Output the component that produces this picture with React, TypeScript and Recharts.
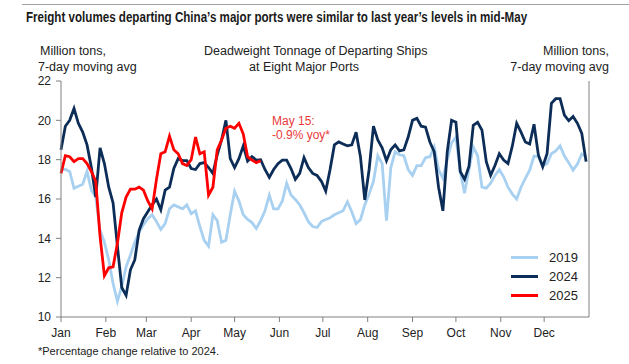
import { LineChart, Line, XAxis, YAxis } from "recharts";

const MONTHS = ["Jan", "Feb", "Mar", "Apr", "May", "Jun", "Jul", "Aug", "Sep", "Oct", "Nov", "Dec"];
const MONTH_START_DAYS = [0, 31, 59, 90, 120, 151, 181, 212, 243, 273, 304, 334];
const Y_TICKS = [10, 12, 14, 16, 18, 20, 22];

// sampled every 3 days, day 0 = Jan 1
const DAYS = Array.from({ length: 122 }, (_, i) => i * 3);

const V2019 = [
  17.5, 17.5, 17.4, 16.55, 16.65, 16.75, 17.4, 16.45, 16.1, 14.4,
  13.8, 12.9, 11.7, 10.8, 11.55, 12.55, 13.15, 13.8, 14.3, 14.7,
  15.0, 15.2, 14.85, 14.45, 14.75, 15.5, 15.7, 15.6, 15.5, 15.7,
  15.25, 15.4, 14.6, 13.9, 13.6, 15.2, 14.9, 13.8, 13.9, 15.2,
  16.4, 15.9, 15.2, 14.96, 14.8, 14.5, 14.9, 15.4, 16.2, 15.5,
  15.5, 15.9, 16.8, 16.2, 15.98, 15.7, 15.3, 14.85, 14.6, 14.55,
  14.85, 14.96, 15.05, 15.2, 15.3, 15.4, 15.86, 15.35, 14.75, 14.95,
  15.7, 16.25, 16.9, 18.2, 17.8, 14.9, 17.6, 18.4, 18.25, 18.2,
  17.5, 17.2, 17.7, 17.7, 18.1, 18.15, 18.65, 17.5, 17.05, 18.0,
  18.85, 19.15, 17.4, 16.3, 17.5, 18.65, 18.2, 16.6, 16.55, 16.8,
  17.2, 17.5, 17.13, 16.6, 16.25, 16.0, 16.6, 17.05, 17.47, 18.18,
  18.15, 17.7, 17.8, 18.3, 18.45, 18.7, 18.18, 17.85, 17.47, 17.78,
  18.29, 18.15,
];

const V2024 = [
  18.5, 19.7, 20.0, 20.6, 19.85, 19.4, 18.75, 17.6, 16.1, 18.6,
  17.8, 16.6, 15.8, 13.6, 11.5, 11.1, 12.4, 12.9, 14.4, 15.0,
  15.35, 15.7, 16.0, 15.45, 16.45, 16.6, 17.55, 18.05, 17.95, 17.95,
  17.55, 17.5, 17.8, 17.85, 17.6, 17.3, 18.25, 19.0, 20.0, 18.05,
  17.6, 18.05, 18.7, 17.93, 18.15, 17.98, 18.0, 17.5, 17.1, 17.5,
  17.8, 17.98, 17.98, 17.55, 17.0, 17.3, 18.1, 17.6, 17.3, 17.2,
  16.9, 16.4, 17.5, 18.75, 18.9, 18.8, 18.7, 18.75, 19.4, 18.15,
  15.95, 17.5, 19.7, 19.0, 18.6, 17.95, 18.5, 18.75, 18.45, 18.5,
  19.15, 20.0, 20.1, 19.7, 19.65, 18.9, 18.4, 16.6, 15.4, 18.4,
  20.0, 19.9, 17.4, 17.0, 17.65, 19.75, 19.9, 19.5, 17.9, 17.2,
  17.7, 18.3, 17.98, 17.8, 18.7, 19.85, 19.4, 18.9, 18.8, 19.8,
  18.24, 17.64, 18.3, 20.86, 21.1, 21.1, 20.27, 19.98, 20.2, 19.85,
  19.34, 17.9,
];

// 2025 runs to mid-May only
const V2025 = [
  17.3, 18.2, 18.15, 17.9, 18.05, 18.05, 17.8, 17.4, 16.9, 14.1,
  12.1, 12.5, 12.55, 13.75, 15.3, 16.1, 16.5, 16.5, 16.6, 16.45,
  15.9, 15.5, 17.0, 18.3, 18.4, 19.2, 18.5, 18.3, 17.8, 17.7,
  18.0, 19.15, 18.3, 18.4, 16.2, 16.6, 18.5, 19.0, 19.6, 19.7,
  19.6, 19.85, 19.3, 18.15, 17.98, 17.85, 17.95,
];

const SERIES = [
  { key: "y2019", name: "2019", color: "#a8d0f0" },
  { key: "y2024", name: "2024", color: "#0c2d57" },
  { key: "y2025", name: "2025", color: "#ff0000" },
];

const FONT = '"Liberation Sans", Arial, sans-serif';
const AXIS = "#808080";
const TEXT = "#222";

export default function App() {
  const data = DAYS.map((day, i) => ({
    day,
    y2019: V2019[i],
    y2024: V2024[i],
    y2025: i < V2025.length ? V2025[i] : null,
  }));

  const tick = { fill: TEXT, fontSize: 12, fontFamily: FONT };

  return (
    <div style={{ position: "relative", width: 629, height: 364, background: "#fff", fontFamily: FONT, color: TEXT }}>
      <style>{"body{margin:0}"}</style>
      <LineChart width={629} height={364} data={data} margin={{ top: 81, right: 0, bottom: 17, left: 21 }}>
        <XAxis
          dataKey="day"
          type="number"
          domain={[0, 365]}
          ticks={MONTH_START_DAYS}
          tickFormatter={(d) => MONTHS[MONTH_START_DAYS.indexOf(d)]}
          stroke={AXIS}
          tick={tick}
          tickSize={5}
          tickMargin={6}
          interval={0}
        />
        <YAxis
          yAxisId="left"
          width={40}
          domain={[10, 22]}
          ticks={Y_TICKS}
          stroke={AXIS}
          tick={tick}
          tickSize={5}
          tickMargin={5}
          interval={0}
        />
        <YAxis
          yAxisId="right"
          orientation="right"
          width={40}
          domain={[10, 22]}
          ticks={Y_TICKS}
          stroke={AXIS}
          tick={tick}
          tickSize={5}
          tickMargin={4}
          interval={0}
        />
        {SERIES.map((s) => (
          <Line
            key={s.key}
            yAxisId="left"
            type="linear"
            dataKey={s.key}
            stroke={s.color}
            strokeWidth={2.8}
            dot={false}
            isAnimationActive={false}
          />
        ))}
      </LineChart>

      <div style={{ position: "absolute", left: 22, right: 0, top: 4, borderTop: "1px solid #a0a0a0" }} />
      <div
        style={{
          position: "absolute",
          left: 26,
          top: 9,
          fontWeight: 700,
          fontSize: 14.5,
          whiteSpace: "nowrap",
          color: "#1a1a1a",
          transform: "scaleX(0.8)",
          transformOrigin: "left top",
        }}
      >
        Freight volumes departing China’s major ports were similar to last year’s levels in mid-May
      </div>

      <div style={{ position: "absolute", left: 38, top: 43, fontSize: 12.5, lineHeight: "16px" }}>
        <div style={{ paddingLeft: 2 }}>Million tons,</div>
        <div>7-day moving avg</div>
      </div>
      <div style={{ position: "absolute", left: 204, width: 200, top: 43, fontSize: 12.5, lineHeight: "16px", textAlign: "center", whiteSpace: "nowrap" }}>
        <div>Deadweight Tonnage of Departing Ships</div>
        <div>at Eight Major Ports</div>
      </div>
      <div style={{ position: "absolute", right: 20, top: 43, fontSize: 12.5, lineHeight: "16px", textAlign: "right" }}>
        <div>Million tons,</div>
        <div>7-day moving avg</div>
      </div>

      <div style={{ position: "absolute", left: 272, top: 114, fontSize: 12, lineHeight: "14px", color: "#e83a3a" }}>
        <div>May 15:</div>
        <div>-0.9% yoy*</div>
      </div>

      <div style={{ position: "absolute", left: 511, top: 248 }}>
        {SERIES.map((s) => (
          <div key={s.key} style={{ display: "flex", alignItems: "center", height: 19 }}>
            <div style={{ width: 27, height: 3, background: s.color }} />
            <div style={{ marginLeft: 11, fontSize: 13 }}>{s.name}</div>
          </div>
        ))}
      </div>

      <div style={{ position: "absolute", left: 38, top: 345, fontSize: 11 }}>*Percentage change relative to 2024.</div>
    </div>
  );
}
